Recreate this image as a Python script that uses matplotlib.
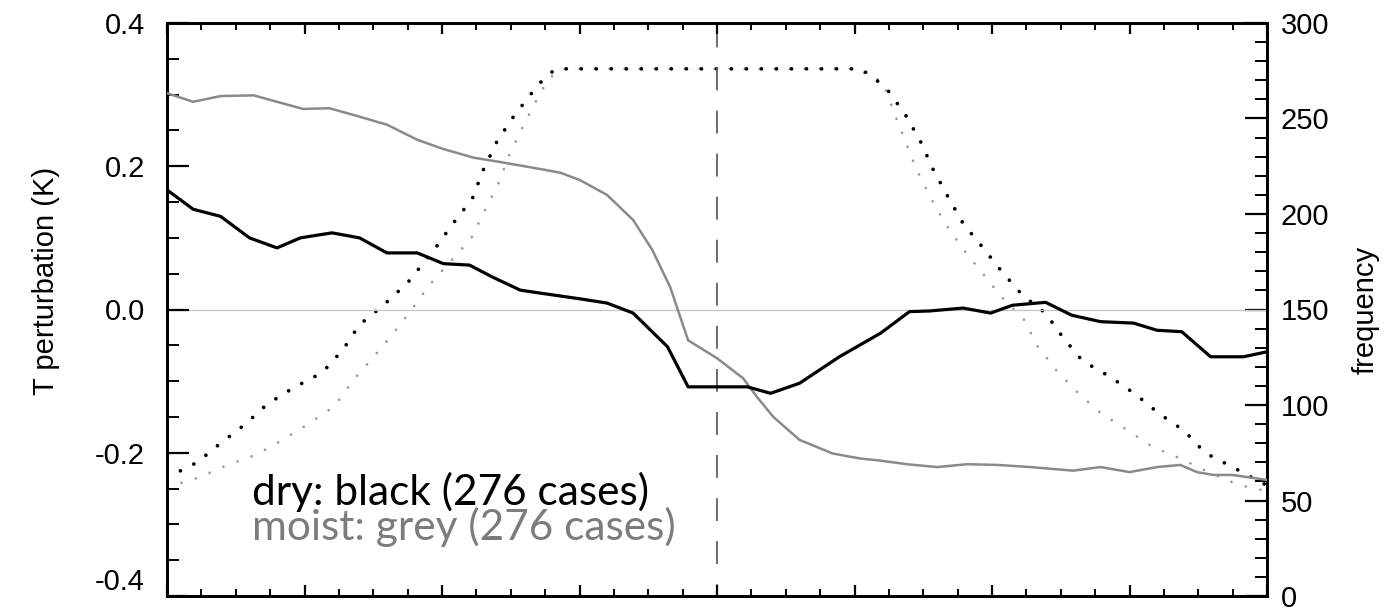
import matplotlib
matplotlib.use("Agg")
import matplotlib.pyplot as plt
from matplotlib.ticker import MultipleLocator

plt.rcParams['axes.unicode_minus'] = False
plt.rcParams['lines.scale_dashes'] = False
plt.rcParams['font.family'] = ['Liberation Sans', 'DejaVu Sans']

# ---- data ----
dry_T_x = [-4.0, -3.81, -3.61, -3.40, -3.20, -3.03, -2.80, -2.60, -2.40, -2.18, -1.99, -1.80,
           -1.63, -1.43, -1.29, -1.00, -0.80, -0.61, -0.36, -0.21, 0.22, 0.39, 0.60, 0.89,
           1.19, 1.40, 1.55, 1.79, 1.99, 2.15, 2.39, 2.58, 2.79, 3.03, 3.20, 3.38, 3.59, 3.83, 4.0]
dry_T = [0.167, 0.140, 0.130, 0.100, 0.086, 0.100, 0.107, 0.100, 0.079, 0.079, 0.064, 0.062,
         0.045, 0.027, 0.023, 0.015, 0.009, -0.005, -0.052, -0.108, -0.108, -0.117, -0.103, -0.066,
         -0.033, -0.003, -0.002, 0.002, -0.005, 0.006, 0.010, -0.008, -0.017, -0.019, -0.029,
         -0.031, -0.066, -0.066, -0.059]

moist_T_x = [-4.0, -3.81, -3.61, -3.37, -3.20, -3.01, -2.82, -2.65, -2.40, -2.18, -1.99, -1.77,
             -1.58, -1.34, -1.14, -1.0, -0.80, -0.61, -0.47, -0.34, -0.21, 0.0, 0.19, 0.29, 0.41,
             0.60, 0.84, 1.04, 1.19, 1.38, 1.60, 1.82, 2.04, 2.28, 2.59, 2.79, 3.00, 3.20, 3.37,
             3.49, 3.61, 3.75, 4.0]
moist_T = [0.302, 0.290, 0.298, 0.299, 0.290, 0.280, 0.281, 0.272, 0.258, 0.237, 0.224, 0.212,
           0.206, 0.198, 0.191, 0.181, 0.160, 0.125, 0.083, 0.031, -0.043, -0.068, -0.096, -0.122,
           -0.150, -0.182, -0.201, -0.208, -0.211, -0.216, -0.220, -0.216, -0.217, -0.220, -0.225,
           -0.220, -0.227, -0.220, -0.217, -0.227, -0.231, -0.231, -0.238]

dry_f_x = [-4.0, -3.78, -3.61, -3.43, -3.27, -3.08, -2.87, -2.72, -2.60, -2.43, -2.25, -2.05,
           -1.92, -1.78, -1.70, -1.60, -1.48, -1.34, -1.27, -1.19, -1.14, 1.04, 1.13, 1.24, 1.37,
           1.48, 1.57, 1.68, 1.79, 1.93, 2.07, 2.22, 2.39, 2.52, 2.66, 2.86, 3.04, 3.21, 3.40,
           3.55, 3.75, 3.95, 4.0]
dry_f = [62, 70, 80, 90, 100.5, 109, 117, 129, 142, 152, 164, 182,
         195, 208, 223, 238, 251, 264, 270, 275, 276, 276, 272, 265, 252,
         238, 223.6, 209, 195, 182.7, 170, 157.6, 148, 135, 123, 114.7, 105.8, 95.8, 86.4,
         74.9, 67.5, 59.7, 58]

moist_f_x = [-4.0, -3.77, -3.56, -3.35, -3.16, -2.96, -2.78, -2.65, -2.50, -2.36, -2.22, -2.09,
             -1.94, -1.79, -1.69, -1.59, -1.51, -1.41, -1.31, -1.25, -1.18, -1.11, 1.00, 1.11,
             1.21, 1.28, 1.37, 1.45, 1.55, 1.66, 1.79, 1.93, 2.07, 2.23, 2.33, 2.47, 2.63, 2.79,
             2.98, 3.17, 3.37, 3.57, 3.78, 3.89, 4.0]
moist_f = [57, 62, 68.6, 74, 81.7, 90.6, 99.5, 112.6, 125, 137, 150, 163,
           175, 187, 201.6, 216, 231, 246, 260, 267.6, 274, 276, 276, 273,
           268.6, 254.5, 238, 223.6, 209, 195, 181.7, 169, 156.5, 145, 131, 118, 106, 95.8,
           87, 78, 72, 65, 58.6, 56.5, 55]

T_ticks = [-0.4, -0.2, 0.0, 0.2, 0.4]
T_ticklabels = ['-0.4', '-0.2', '0.0', '0.2', '0.4']
f_ticks = [0, 50, 100, 150, 200, 250, 300]
label_dry = 'dry: black (276 cases)'
label_moist = 'moist: grey (276 cases)'

# ---- figure ----
fig = plt.figure(figsize=(13.92, 6.11), dpi=100)
ax = fig.add_axes([167 / 1392, 1 - 596 / 611, 1100 / 1392, 573 / 611])
ax2 = ax.twinx()

ax.set_xlim(-4, 4)
ax.set_ylim(-0.4, 0.4)
ax2.set_ylim(0, 300)

# zero line and centre dashed line
ax.axhline(0, color='#c4c4c4', lw=0.9, zorder=1)
ax.axvline(0, color='#606060', lw=1.3, linestyle=(8, (16.5, 14.5)), zorder=1)

# frequency (dotted, right axis)
ax2.plot(moist_f_x, moist_f, color='#9a9a9a', lw=2.0, linestyle=(0, (0.01, 10.8)),
         dash_capstyle='round', zorder=2)
ax2.plot(dry_f_x, dry_f, color='black', lw=2.7, linestyle=(0, (0.01, 10.8)),
         dash_capstyle='round', zorder=2)

# temperature perturbation (solid, left axis)
ax.set_zorder(ax2.get_zorder() + 1)
ax.patch.set_visible(False)
ax.plot(moist_T_x, moist_T, color='#8a8a8a', lw=1.8, zorder=3)
ax.plot(dry_T_x, dry_T, color='black', lw=2.3, zorder=3)

# ticks
ax.set_yticks(T_ticks)
ax.set_yticklabels(T_ticklabels)
ax.yaxis.set_minor_locator(MultipleLocator(0.05))
ax.xaxis.set_major_locator(MultipleLocator(1))
ax.xaxis.set_minor_locator(MultipleLocator(0.25))
ax.tick_params(axis='y', which='major', direction='in', length=16, width=1.6,
               left=True, right=False, labelsize=21, pad=16)
ax.tick_params(axis='y', which='minor', direction='in', length=8.5, width=1.4,
               left=True, right=False)
ax.tick_params(axis='x', which='major', direction='in', length=8, width=1.6,
               bottom=True, top=True, labelbottom=False)
ax.tick_params(axis='x', which='minor', direction='in', length=5, width=1.4,
               bottom=True, top=True)
for lbl in ax.get_yticklabels():
    if lbl.get_text() == '-0.4':
        lbl.set_verticalalignment('bottom')

ax2.set_yticks(f_ticks)
ax2.yaxis.set_minor_locator(MultipleLocator(10))
ax2.tick_params(axis='y', which='major', direction='in', length=16, width=1.6,
                labelsize=21, pad=10)
ax2.tick_params(axis='y', which='minor', direction='in', length=8.5, width=1.4)

for a in (ax, ax2):
    for s in a.spines.values():
        s.set_linewidth(2.0)

ax.set_ylabel('T perturbation (K)', fontsize=21)
ax.yaxis.set_label_coords(-0.097, 0.55)
ax2.set_ylabel('frequency', fontsize=21)
ax2.yaxis.set_label_coords(1.077, 0.50)

# annotation
ax.text(0.077, 0.159, label_dry, transform=ax.transAxes, fontsize=30.5, color='black',
        family=['Lato', 'DejaVu Sans'], va='baseline', ha='left', zorder=5)
ax.text(0.077, 0.098, label_moist, transform=ax.transAxes, fontsize=30.5, color='#7c7c7c',
        family=['Lato', 'DejaVu Sans'], va='baseline', ha='left', zorder=5)

fig.savefig('out.png', dpi=100)
